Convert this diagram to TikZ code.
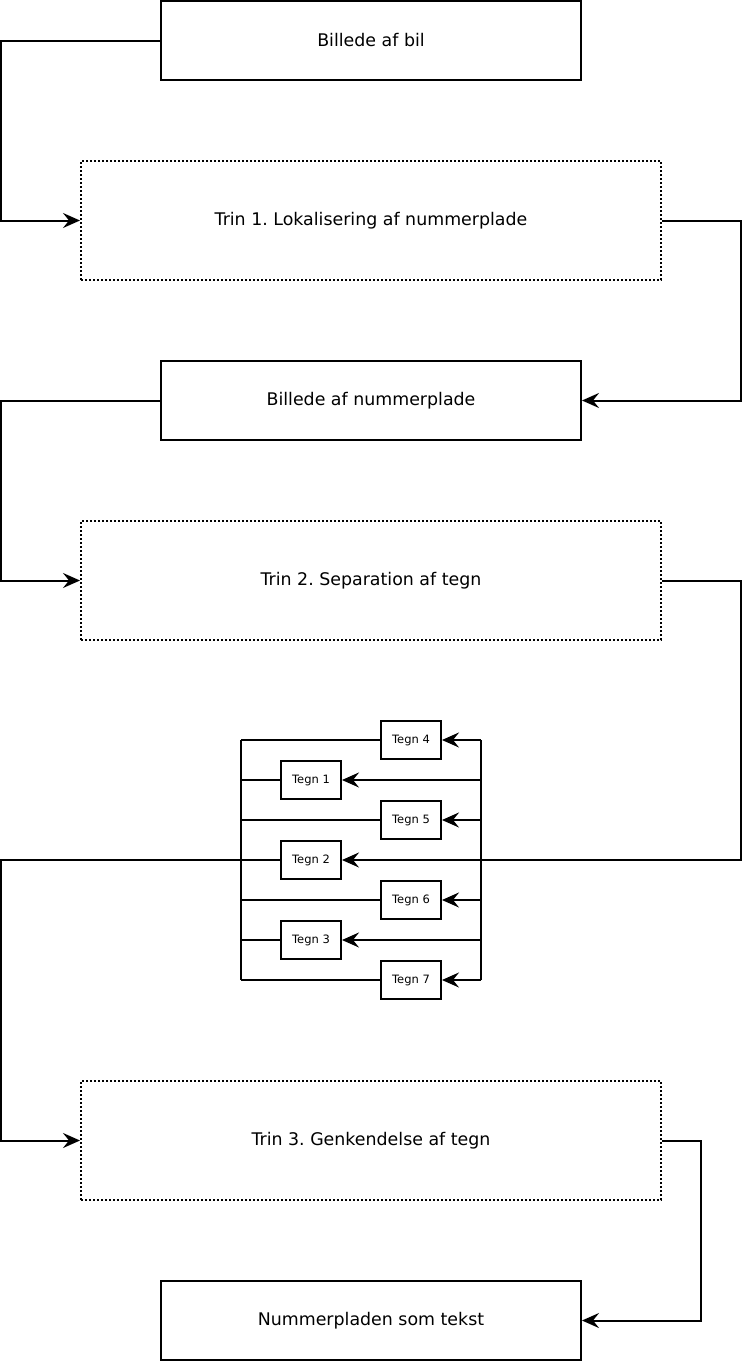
\documentclass[tikz,border=0pt]{standalone}
\usepackage{fontspec}
\setmainfont{DejaVu Sans}
\frenchspacing
\usetikzlibrary{arrows.meta}
\begin{document}
\begin{tikzpicture}[x=1pt,y=-1pt,
  line width=2pt,
  bigbox/.style={draw, minimum width=420pt, minimum height=79pt, inner sep=0pt, font=\fontsize{17.4}{20}\selectfont},
  trinbox/.style={draw, dash pattern=on 2pt off 2pt, minimum width=580pt, minimum height=119pt, inner sep=0pt, font=\fontsize{17.4}{20}\selectfont},
  tegnbox/.style={draw, minimum width=60pt, minimum height=38pt, inner sep=0pt, font=\fontsize{11.5}{13}\selectfont},
  arr/.style={-{Stealth[length=17pt,width=15pt,inset=6pt]}},
  conn/.style={line join=miter}
]
\useasboundingbox (0,0) rectangle (744,1363);
\node[bigbox] (bil) at (371,40.5) {Billede af bil};
\node[trinbox] (t1) at (371,220.5) {Trin 1. Lokalisering af nummerplade};
\node[bigbox] (np) at (371,400.5) {Billede af nummerplade};
\node[trinbox] (t2) at (371,580.5) {Trin 2. Separation af tegn};
\node[trinbox] (t3) at (371,1140.5) {Trin 3. Genkendelse af tegn};
\node[bigbox] (txt) at (371,1320.5) {Nummerpladen som tekst};

\node[tegnbox] (g4) at (411,740) {Tegn 4};
\node[tegnbox] (g1) at (311,780) {Tegn 1};
\node[tegnbox] (g5) at (411,820) {Tegn 5};
\node[tegnbox] (g2) at (311,860) {Tegn 2};
\node[tegnbox] (g6) at (411,900) {Tegn 6};
\node[tegnbox] (g3) at (311,940) {Tegn 3};
\node[tegnbox] (g7) at (411,980) {Tegn 7};

\coordinate (rt) at (481,740);
\coordinate (rb) at (481,980);
\coordinate (lt) at (241,740);
\coordinate (lb) at (241,980);
\coordinate (lm) at (241,860);

\draw[arr,conn] (bil.west) -- (1,40.5) |- (t1.west);
\draw[arr,conn] (t1.east) -- (741,220.5) |- (np.east);
\draw[arr,conn] (np.west) -- (1,400.5) |- (t2.west);
\draw[arr,conn] (t2.east) -- (741,580.5) |- (g2.east);
\draw[conn] (rt) -- (rb);
\draw[conn] (lt) -- (lb);
\foreach \g in {g4,g1,g5,g6,g3,g7}{
  \draw[arr] (rt |- \g.east) -- (\g.east);
  \draw (\g.west) -- (lt |- \g.west);
}
\draw (g2.west) -- (lm);
\draw[arr,conn] (lm) -- (1,860) |- (t3.west);
\draw[arr,conn] (t3.east) -- (701,1140.5) |- (txt.east);
\end{tikzpicture}
\end{document}
